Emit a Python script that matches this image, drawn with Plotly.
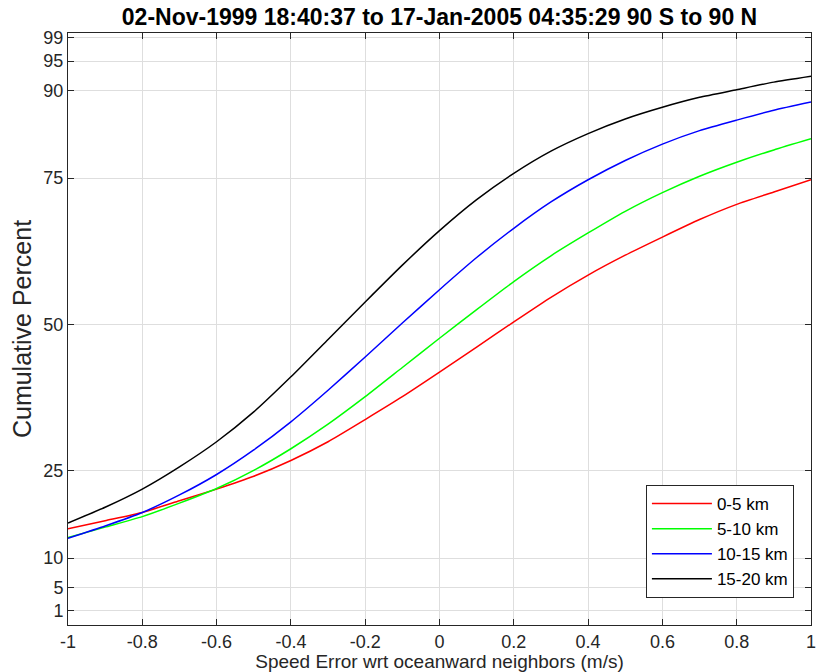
import plotly.graph_objects as go

x_vals = [round(-1.0 + 0.1 * i, 1) for i in range(21)]

red_0_5 = [15.0, 16.4, 17.8, 19.8, 21.8, 24.0, 26.7, 29.9, 33.7, 37.6, 41.8,
           46.1, 50.4, 54.6, 58.4, 61.8, 64.9, 67.9, 70.5, 72.6, 74.7]
green_5_10 = [13.5, 15.3, 17.1, 19.4, 21.9, 25.0, 28.7, 32.9, 37.6, 42.6, 47.6,
              52.5, 57.3, 61.7, 65.6, 69.3, 72.5, 75.3, 77.7, 79.8, 81.7]
blue_10_15 = [13.4, 15.5, 17.8, 20.8, 24.3, 28.5, 33.3, 38.7, 44.4, 50.2, 55.9,
              61.4, 66.4, 70.9, 74.7, 78.0, 80.8, 83.1, 84.9, 86.6, 88.0]
black_15_20 = [16.0, 18.7, 21.8, 25.6, 29.9, 35.0, 41.0, 47.4, 53.8, 60.1, 66.0,
               71.3, 75.8, 79.6, 82.6, 85.1, 87.1, 88.8, 90.1, 91.4, 92.4]

series_names = ["0-5 km", "5-10 km", "10-15 km", "15-20 km"]
series_colors = ["#ff0000", "#00ff00", "#0000ff", "#000000"]
series_data = [red_0_5, green_5_10, blue_10_15, black_15_20]

y_tick_vals = [1, 5, 10, 25, 50, 75, 90, 95, 99]
x_tick_vals = [-1, -0.8, -0.6, -0.4, -0.2, 0, 0.2, 0.4, 0.6, 0.8, 1]
x_tick_text = ["-1", "-0.8", "-0.6", "-0.4", "-0.2", "0", "0.2", "0.4", "0.6", "0.8", "1"]

title_text = "02-Nov-1999 18:40:37 to 17-Jan-2005 04:35:29 90 S to 90 N"

fig = go.Figure()
for name, color, ys in zip(series_names, series_colors, series_data):
    fig.add_trace(go.Scatter(x=x_vals, y=ys, mode="lines", name=name,
                             line=dict(color=color, width=1.5, shape="spline", smoothing=0.5)))

font_family = "Liberation Sans, Arial, Helvetica, sans-serif"
axis_common = dict(
    showline=True, linecolor="#262626", linewidth=1, mirror="ticks",
    ticks="inside", ticklen=6, tickcolor="#262626", tickwidth=1,
    showgrid=True, gridcolor="#dedede", gridwidth=1, zeroline=False,
    automargin=False, ticklabeloverflow="allow",
    tickfont=dict(family=font_family, size=18, color="#262626"),
)

fig.update_layout(
    width=816, height=672,
    margin=dict(l=68, r=5, t=33, b=47),
    paper_bgcolor="white", plot_bgcolor="white",
    title=dict(text="<b>" + title_text + "</b>", x=0.5, xref="paper",
               xanchor="center", y=1 - 16.5 / 672, yref="container", yanchor="middle",
               font=dict(family=font_family, size=23, color="#000000")),
    xaxis=dict(range=[-1, 1], tickvals=x_tick_vals, ticktext=x_tick_text,
               title=dict(text="Speed Error wrt oceanward neighbors (m/s)", standoff=0,
                          font=dict(family=font_family, size=19, color="#262626")),
               **axis_common),
    yaxis=dict(range=[-1.44, 99.8], tickvals=y_tick_vals,
               ticktext=[str(v) for v in y_tick_vals],
               title=dict(text="Cumulative Percent", standoff=4,
                          font=dict(family=font_family, size=25, color="#262626")),
               **axis_common),
    legend=dict(x=0.977, y=0.0456, xanchor="right", yanchor="bottom",
                bgcolor="white", bordercolor="#262626", borderwidth=1,
                font=dict(family=font_family, size=17, color="#000000"),
                itemwidth=60, tracegroupgap=0),
    showlegend=True,
)

fig.write_html("out.html", config={"displayModeBar": False},
               post_script="document.body.style.margin='0';document.body.style.overflow='hidden';")
